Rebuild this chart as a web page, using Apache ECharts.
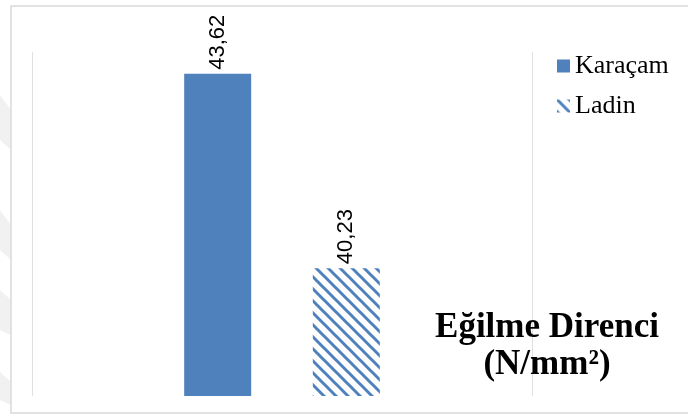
<!DOCTYPE html>
<html>
<head>
<meta charset="utf-8">
<script src="https://cdn.jsdelivr.net/npm/echarts@6/dist/echarts.min.js"></script>
<style>
  html, body { margin: 0; padding: 0; background: #ffffff; }
  #chart { width: 688px; height: 417px; }
</style>
</head>
<body>
<div id="chart"></div>
<script>
// Bending strength of two wood species (N/mm²)
const categories = ['Eğilme Direnci'];
const seriesNames = ['Karaçam', 'Ladin'];
const karacamValues = [43.62];
const ladinValues = [40.23];
const titleLines = ['Eğilme Direnci', '(N/mm²)'];

const BLUE = '#4F81BD';

// Diagonal "\" hatch used for the second species
function hatchPattern(size, width, color) {
  const c = document.createElement('canvas');
  c.width = size;
  c.height = size;
  const ctx = c.getContext('2d');
  ctx.fillStyle = '#ffffff';
  ctx.fillRect(0, 0, size, size);
  ctx.strokeStyle = color;
  ctx.lineWidth = width;
  ctx.lineCap = 'square';
  for (let k = -1; k <= 1; k++) {
    ctx.beginPath();
    ctx.moveTo(k * size, 0);
    ctx.lineTo(k * size + size, size);
    ctx.stroke();
  }
  return { image: c, repeat: 'repeat' };
}

const commaLabel = p => String(p.value.toFixed ? p.value.toFixed(2) : p.value).replace('.', ',');

const labelStyle = {
  show: true,
  position: 'top',
  distance: 4,
  rotate: 90,
  align: 'left',
  verticalAlign: 'middle',
  fontFamily: 'Liberation Sans, Arial, sans-serif',
  fontSize: 22,
  color: '#000000',
  formatter: commaLabel
};

const chart = echarts.init(document.getElementById('chart'), null, { renderer: 'canvas' });

chart.setOption({
  animation: false,
  backgroundColor: '#ffffff',
  title: {
    text: titleLines.join('\n'),
    left: 547,
    top: 309,
    textAlign: 'center',
    padding: 0,
    textStyle: {
      fontFamily: 'Liberation Serif, Times New Roman, serif',
      fontWeight: 'bold',
      fontSize: 35,
      lineHeight: 37,
      color: '#000000'
    }
  },
  legend: {
    data: seriesNames,
    orient: 'vertical',
    left: 557,
    top: 53,
    padding: 0,
    itemGap: 14,
    itemWidth: 13,
    itemHeight: 13,
    icon: 'rect',
    textStyle: {
      fontFamily: 'Liberation Serif, Times New Roman, serif',
      fontSize: 26,
      color: '#000000'
    }
  },
  grid: { left: 32, right: 156, top: 52, bottom: 21, containLabel: false },
  xAxis: {
    type: 'category',
    data: categories,
    axisLine: { show: false },
    axisTick: { show: false },
    axisLabel: { show: false },
    splitLine: { show: true, lineStyle: { color: '#e0e0e0', width: 1 } }
  },
  yAxis: {
    type: 'value',
    min: 38,
    max: 44,
    show: false
  },
  series: [
    {
      name: seriesNames[0],
      type: 'bar',
      data: karacamValues,
      barWidth: 67,
      barGap: '92%',
      itemStyle: { color: BLUE },
      label: labelStyle
    },
    {
      name: seriesNames[1],
      type: 'bar',
      data: ladinValues,
      barWidth: 67,
      itemStyle: { color: hatchPattern(12, 3, BLUE) },
      label: labelStyle
    }
  ],
  graphic: [
    // faint backdrop shapes at the far left edge
    { type: 'polygon', silent: true, z: -10, shape: { points: [[0, 95], [11, 110], [11, 150], [0, 140]] }, style: { fill: '#f1f1f1' } },
    { type: 'polygon', silent: true, z: -10, shape: { points: [[0, 210], [11, 225], [11, 260], [0, 250]] }, style: { fill: '#f1f1f1' } },
    { type: 'polygon', silent: true, z: -10, shape: { points: [[0, 290], [11, 300], [11, 335], [0, 330]] }, style: { fill: '#f1f1f1' } },
    { type: 'polygon', silent: true, z: -10, shape: { points: [[0, 372], [11, 382], [11, 405], [0, 400]] }, style: { fill: '#f1f1f1' } },
    // chart frame
    {
      type: 'rect',
      silent: true,
      z: -5,
      shape: { x: 11, y: 6, width: 690, height: 407 },
      style: { fill: '#ffffff', stroke: '#d9d9d9', lineWidth: 1.5 }
    }
  ]
});
</script>
</body>
</html>
